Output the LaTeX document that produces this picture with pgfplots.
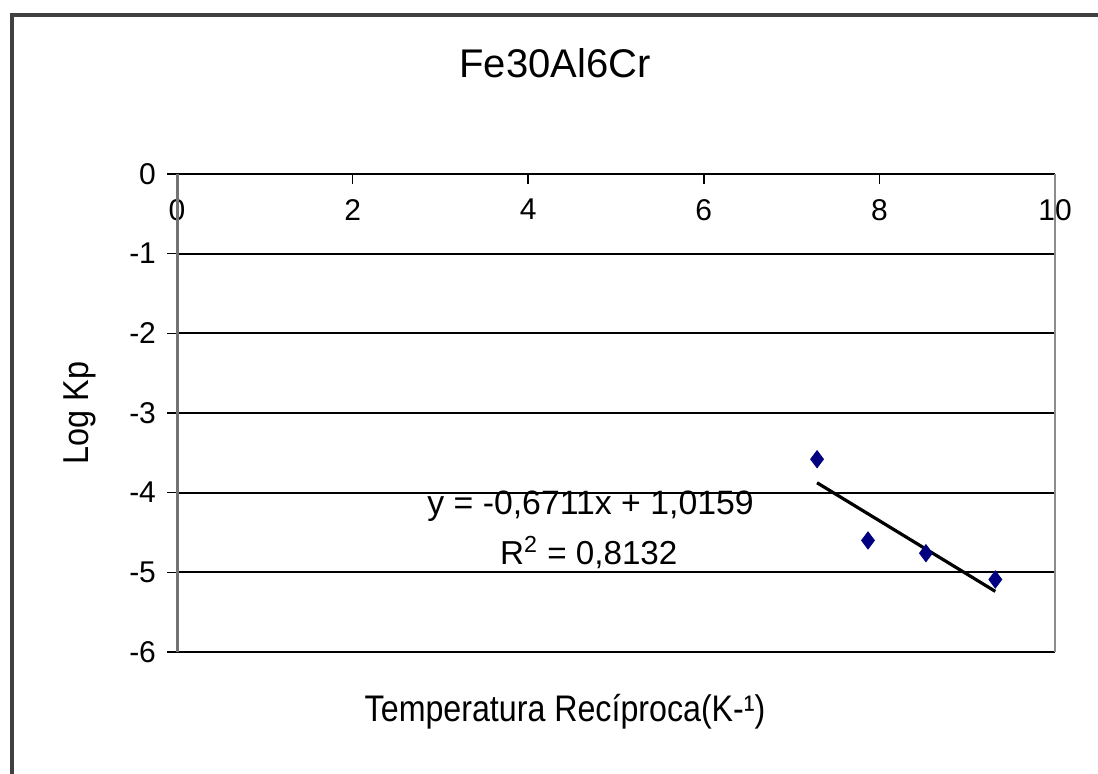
\documentclass[border=0pt]{standalone}
\usepackage{fontspec}
\setmainfont{Liberation Sans}
\usepackage{pgfplots}
\pgfplotsset{compat=1.18}

\begin{document}
\begin{tikzpicture}
% page frame: 1px = 0.5pt
\path[use as bounding box] (0,0) rectangle (549pt,387pt);
\draw[black!75, line width=1.6pt] (6pt,0) -- (6pt,379.5pt) -- (549pt,379.5pt);

\begin{axis}[
    at={(88.5pt,61pt)}, anchor=south west,
    scale only axis,
    width=439pt, height=239pt,
    xmin=0, xmax=10, ymin=-6, ymax=0,
    xtick={0,2,...,10}, ytick={-6,-5,...,0},
    axis line style={draw=none},
    ymajorgrids, grid style={black, line width=0.9pt},
    xtick pos=upper, ytick pos=left,
    tick align=inside, major tick length=5pt,
    tick style={black, line width=0.8pt},
    ytick style={xshift=-5pt},
    xticklabel pos=upper,
    xticklabel style={anchor=north, yshift=-9pt},
    yticklabel style={xshift=-7pt},
    tick label style={font=\fontsize{15}{17}\selectfont},
    /pgf/number format/assume math mode=true,
    title={Fe30Al6Cr},
    title style={at={(rel axis cs:0.4305,1.207)}, anchor=center, font=\fontsize{20}{23}\selectfont},
    xlabel={Temperatura Recíproca(K-¹)},
    xlabel style={at={(rel axis cs:0.442,-0.1255)}, anchor=center, xscale=0.87, font=\fontsize{18.5}{21}\selectfont},
    ylabel={Log Kp},
    ylabel style={at={(rel axis cs:-0.1105,0.5)}, anchor=center, xscale=0.9, font=\fontsize{18}{21}\selectfont},
    clip=false,
]
% plot-area frame
\draw[black, line width=1pt] (axis cs:0,0) -- (axis cs:10,0);
\draw[black!55, line width=1.5pt] (axis cs:0,0) -- (axis cs:0,-6);
\draw[black!45, line width=1pt] (axis cs:10,0) -- (axis cs:10,-6);

% linear trend line
\addplot[black, line width=1.6pt] coordinates {(7.29,-3.876) (9.32,-5.239)};

% measured points
\addplot[only marks, mark=diamond*, mark size=4.3pt, color={rgb,255:red,0;green,0;blue,128}]
    coordinates {(7.29,-3.58) (7.87,-4.60) (8.53,-4.76) (9.32,-5.09)};

\node[font=\fontsize{16.9}{19}\selectfont] at (axis cs:4.71,-4.17) {y = -0,6711x + 1,0159};
\node[font=\fontsize{16.6}{19}\selectfont] at (axis cs:4.69,-4.75) {R\textsuperscript{2} = 0,8132};
\end{axis}
\end{tikzpicture}
\end{document}
